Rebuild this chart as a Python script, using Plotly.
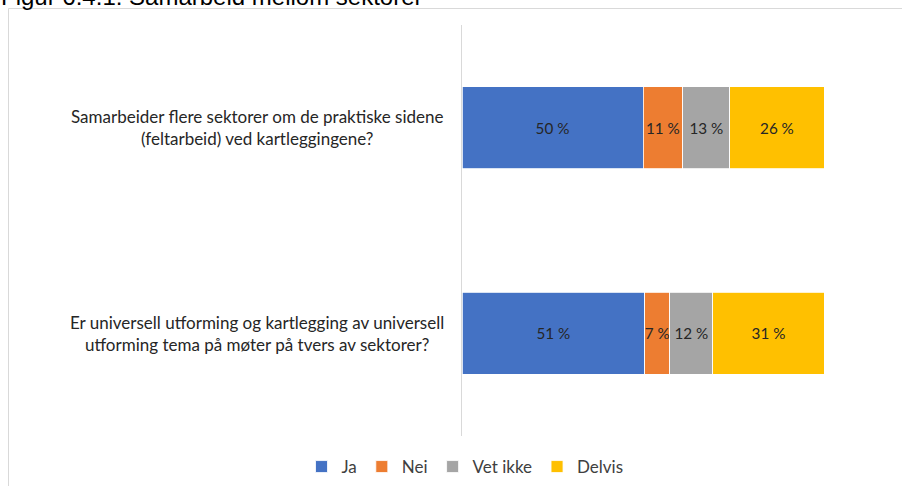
import plotly.graph_objects as go

categories = [
    "Samarbeider flere sektorer om de praktiske sidene<br>(feltarbeid) ved kartleggingene?",
    "Er universell utforming og kartlegging av universell<br>utforming tema på møter på tvers av sektorer?",
]
series_names = ["Ja", "Nei", "Vet ikke", "Delvis"]
values_ja = [50, 51]
values_nei = [11, 7]
values_vetikke = [13, 12]
values_delvis = [26, 31]
colors = ["#4472C4", "#ED7D31", "#A5A5A5", "#FFC000"]
title_text = "Figur 6.4.1: Samarbeid mellom sektorer"

W, H = 902, 486
L, R, T, B = 462, 78, 25, 50
pw, ph = W - L - R, H - T - B

def px_x(px):
    return (px - L) / pw

def px_y(py):
    return (H - B - py) / ph

fig = go.Figure()
for name, vals, col in zip(series_names,
                           [values_ja, values_nei, values_vetikke, values_delvis],
                           colors):
    fig.add_trace(go.Bar(
        name=name, y=categories, x=vals, orientation="h",
        marker=dict(color=col, line=dict(color="white", width=0.8)),
        text=[f"{v} %" for v in vals], textposition="inside",
        insidetextanchor="middle", textangle=0,
        textfont=dict(family="Lato", size=15.5, color="#262626"),
        hoverinfo="skip",
    ))

for c in categories:
    fig.add_annotation(
        text=c, xref="paper", yref="y", x=px_x(257), y=c,
        xanchor="center", yanchor="middle", showarrow=False, align="center",
        font=dict(family="Lato", size=17, color="#262626"),
    )

fig.add_annotation(
    text=title_text, xref="paper", yref="paper", x=px_x(-1), y=px_y(12),
    xanchor="left", yanchor="bottom", showarrow=False,
    font=dict(family="Liberation Sans", size=24, color="black"),
)

fig.add_shape(type="rect", xref="paper", yref="paper",
              x0=px_x(8.5), x1=px_x(920), y0=px_y(8.5), y1=px_y(520),
              line=dict(color="#D9D9D9", width=1), layer="below")

fig.update_layout(
    width=W, height=H,
    margin=dict(l=L, r=R, t=T, b=B, autoexpand=False),
    barmode="stack", barnorm="percent", bargap=0.6,
    plot_bgcolor="white", paper_bgcolor="white",
    uniformtext=dict(minsize=15, mode="show"),
    xaxis=dict(range=[0, 100], visible=False, fixedrange=True),
    yaxis=dict(autorange="reversed", showticklabels=False, ticks="",
               showline=True, linecolor="#D9D9D9", linewidth=1,
               showgrid=False, zeroline=False),
    legend=dict(orientation="h", xref="container", yref="container",
                x=465 / W, y=(H - 467) / H,
                xanchor="center", yanchor="middle", traceorder="normal",
                font=dict(family="Lato", size=17, color="#404040"),
                itemwidth=30, tracegroupgap=0),
    showlegend=True,
)

fig.write_html("out.html", config={"displayModeBar": False},
               post_script="document.body.style.margin='0px';")
